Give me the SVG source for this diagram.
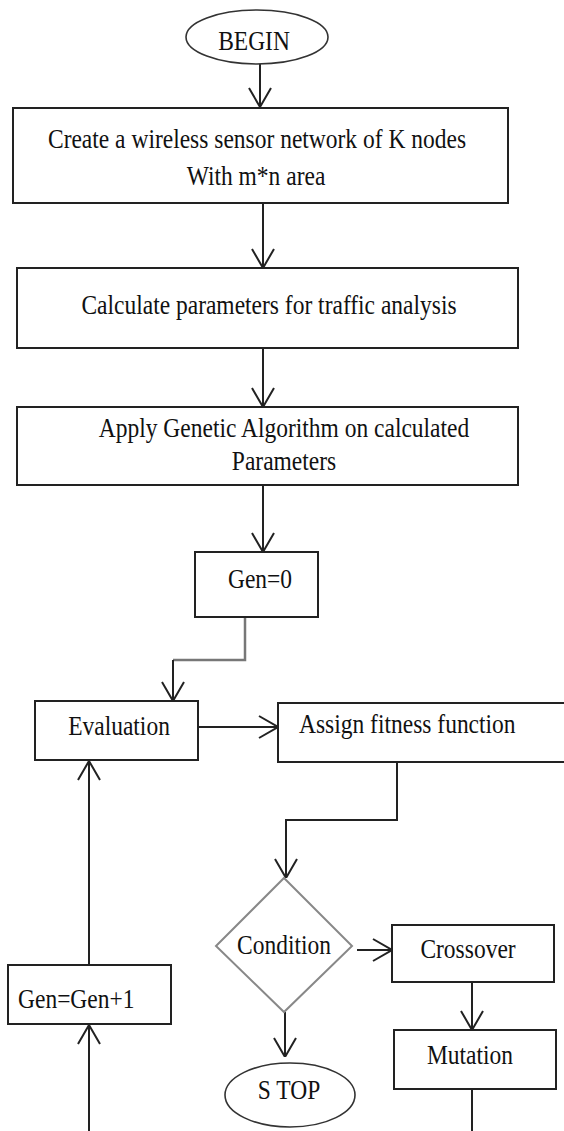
<svg xmlns="http://www.w3.org/2000/svg" width="564" height="1131" viewBox="0 0 564 1131">
<style>
.box{fill:#fff;stroke:#222;stroke-width:2}
.term{fill:#fff;stroke:#333;stroke-width:1.6}
.dia{fill:#fff;stroke:#888;stroke-width:2}
text{font-family:'Liberation Serif','Times New Roman',Times,serif;font-size:23.5px;fill:#111}
.c{text-anchor:middle}
.ln{fill:none;stroke:#222;stroke-width:2}
.gl{fill:none;stroke:#777;stroke-width:2.5}
</style>
<defs>
<marker id="arr" viewBox="0 0 20 24" refX="20" refY="12" markerWidth="20" markerHeight="24" markerUnits="userSpaceOnUse" orient="auto">
<path d="M1,1 L20,12 L1,23" fill="none" stroke="#222" stroke-width="2"/>
</marker>
</defs>
<rect width="564" height="1131" fill="#fff"/>
<g id="connectors">
<path class="ln" d="M260,63 V107" marker-end="url(#arr)"/>
<path class="ln" d="M263,203 V268" marker-end="url(#arr)"/>
<path class="ln" d="M263,348 V407" marker-end="url(#arr)"/>
<path class="ln" d="M263,485 V552" marker-end="url(#arr)"/>
<path class="gl" d="M245,617 V660 H173"/>
<path class="ln" d="M173,660 V701" marker-end="url(#arr)"/>
<path class="ln" d="M198,727 H278" marker-end="url(#arr)"/>
<path class="ln" d="M397,762 V820 H286 V878" marker-end="url(#arr)"/>
<path class="ln" d="M357,950 H392" marker-end="url(#arr)"/>
<path class="ln" d="M472,982 V1030" marker-end="url(#arr)"/>
<path class="ln" d="M285,1012 V1057" marker-end="url(#arr)"/>
<path class="ln" d="M472,1089 V1131"/>
<path class="ln" d="M89,965 V761" marker-end="url(#arr)"/>
<path class="ln" d="M89,1131 V1025" marker-end="url(#arr)"/>
</g>
<g id="begin">
<ellipse class="term" cx="257" cy="37" rx="71" ry="27"/>
<text class="c" transform="translate(254,50) scale(1,1.18)">BEGIN</text>
</g>
<g id="create">
<rect class="box" x="13" y="108" width="495" height="95"/>
<text class="c" transform="translate(257,148) scale(1,1.18)">Create a wireless sensor network of K nodes</text>
<text class="c" transform="translate(256,185) scale(1,1.18)">With m*n area</text>
</g>
<g id="calculate">
<rect class="box" x="17" y="268" width="501" height="80"/>
<text class="c" transform="translate(269,314) scale(1,1.18)">Calculate parameters for traffic analysis</text>
</g>
<g id="apply">
<rect class="box" x="17" y="407" width="501" height="78"/>
<text class="c" transform="translate(284,437) scale(1,1.18)">Apply Genetic Algorithm on calculated</text>
<text class="c" transform="translate(284,470) scale(1,1.18)">Parameters</text>
</g>
<g id="gen0">
<rect class="box" x="195" y="552" width="123" height="65"/>
<text class="c" transform="translate(260,588) scale(1,1.18)">Gen=0</text>
</g>
<g id="evaluation">
<rect class="box" x="35" y="701" width="163" height="59"/>
<text class="c" transform="translate(119,735) scale(1,1.18)">Evaluation</text>
</g>
<g id="assign">
<rect class="box" x="278" y="703" width="300" height="59"/>
<text transform="translate(299,733) scale(1,1.18)">Assign fitness function</text>
</g>
<g id="condition">
<polygon class="dia" points="284,878 352,946 284,1012 216,946"/>
<text class="c" transform="translate(284,954) scale(1,1.18)">Condition</text>
</g>
<g id="crossover">
<rect class="box" x="392" y="925" width="162" height="57"/>
<text class="c" transform="translate(468,958) scale(1,1.18)">Crossover</text>
</g>
<g id="mutation">
<rect class="box" x="394" y="1030" width="162" height="59"/>
<text class="c" transform="translate(470,1064) scale(1,1.18)">Mutation</text>
</g>
<g id="genplus">
<rect class="box" x="8" y="965" width="163" height="59"/>
<text transform="translate(18,1008) scale(1,1.18)">Gen=Gen+1</text>
</g>
<g id="stop">
<ellipse class="term" cx="290" cy="1095" rx="65" ry="32"/>
<text class="c" transform="translate(289,1099) scale(1,1.18)">S TOP</text>
</g>
</svg>
